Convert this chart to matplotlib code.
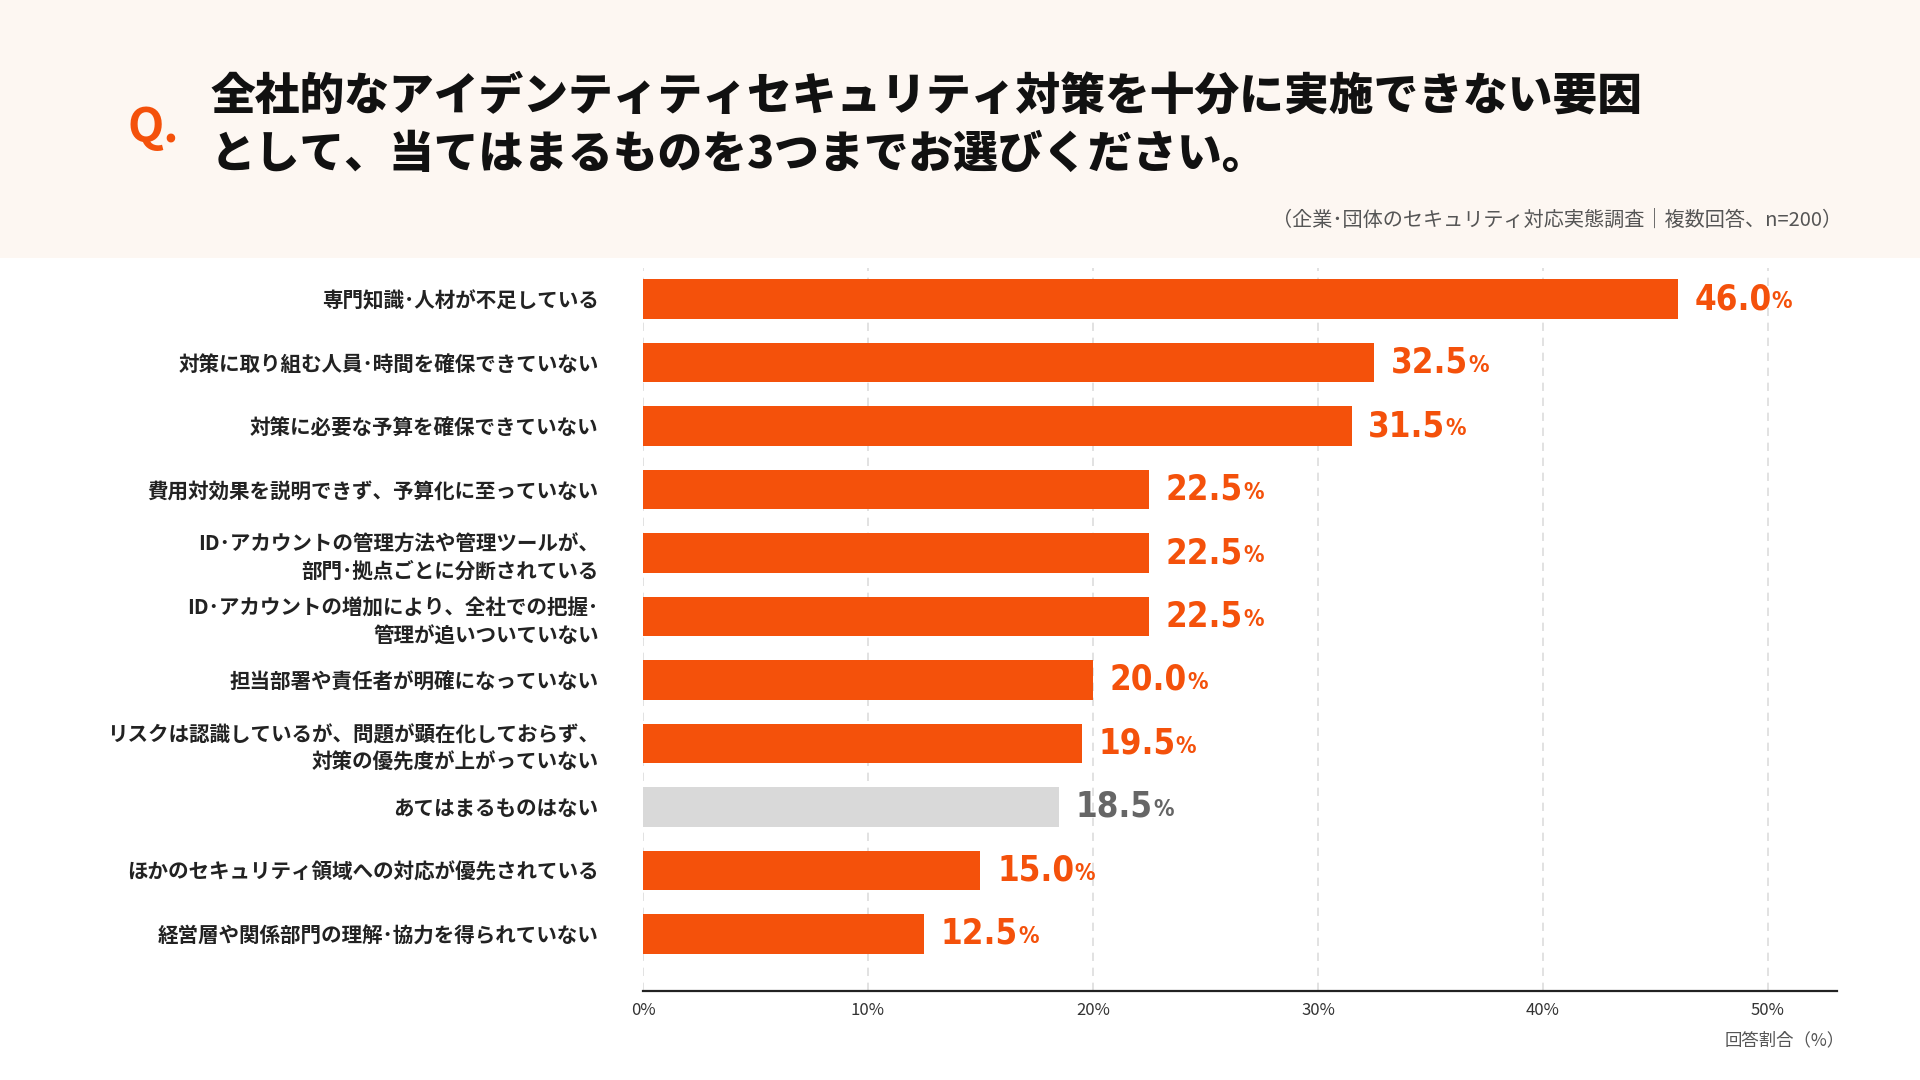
import matplotlib.pyplot as plt
from matplotlib.patches import Rectangle
from matplotlib import font_manager
import numpy as np

plt.rcParams['font.family'] = ['Noto Sans CJK JP', 'DejaVu Sans']

# データ
categories = [
    '専門知識･人材が不足している',
    '対策に取り組む人員･時間を確保できていない',
    '対策に必要な予算を確保できていない',
    '費用対効果を説明できず、予算化に至っていない',
    'ID･アカウントの管理方法や管理ツールが、\n部門･拠点ごとに分断されている',
    'ID･アカウントの増加により、全社での把握･\n管理が追いついていない',
    '担当部署や責任者が明確になっていない',
    'リスクは認識しているが、問題が顕在化しておらず、\n対策の優先度が上がっていない',
    'あてはまるものはない',
    'ほかのセキュリティ領域への対応が優先されている',
    '経営層や関係部門の理解･協力を得られていない',
]
values = [46.0, 32.5, 31.5, 22.5, 22.5, 22.5, 20.0, 19.5, 18.5, 15.0, 12.5]
is_none = [False, False, False, False, False, False, False, False, True, False, False]
xticks = [0, 10, 20, 30, 40, 50]

orange = '#F4510B'
gray_bar = '#D9D9D9'
gray_txt = '#666666'

# 数値ラベル用の細いフォント
names = {f.name for f in font_manager.fontManager.ttflist}
num_family = 'Liberation Sans Narrow' if 'Liberation Sans Narrow' in names else 'DejaVu Sans'
cond_fonts = [f for f in font_manager.fontManager.ttflist
              if 'Condensed' in f.fname and 'Bold' in f.fname and 'DejaVuSans' in f.fname]
num_prop = dict(family=num_family, fontweight='bold')
if num_family == 'DejaVu Sans' and cond_fonts:
    num_prop = dict(fontproperties=font_manager.FontProperties(fname=cond_fonts[0].fname))

fig = plt.figure(figsize=(19.2, 10.8), dpi=100)
fig.patch.set_facecolor('white')

# ヘッダー背景
fig.add_artist(Rectangle((0, 1 - 258 / 1080), 1, 258 / 1080, transform=fig.transFigure,
                         facecolor='#FDF7F2', edgecolor='none', zorder=0))

fig.text(127 / 1920, 1 - 128 / 1080, 'Q.', color=orange, fontsize=34, fontweight='bold',
         va='center', ha='left')
fig.text(211 / 1920, 1 - 96 / 1080, '全社的なアイデンティティセキュリティ対策を十分に実施できない要因',
         fontsize=32.2, fontweight='heavy', color='#111111', va='center', ha='left')
fig.text(211 / 1920, 1 - 154 / 1080, 'として、当てはまるものを3つまでお選びください。',
         fontsize=32.2, fontweight='heavy', color='#111111', va='center', ha='left')
fig.text(1842 / 1920, 1 - 220 / 1080, '（企業･団体のセキュリティ対応実態調査｜複数回答、n=200）',
         fontsize=14.5, color='#555555', va='center', ha='right')

ax = fig.add_axes([643 / 1920, 89 / 1080, (1837 - 643) / 1920, (1080 - 89 - 268) / 1080])

y = np.arange(len(categories))
colors = [gray_bar if n else orange for n in is_none]
ax.barh(y, values, height=0.62, color=colors, zorder=3)

ax.set_xlim(0, 53.07)
ax.set_ylim(len(categories) - 0.1, -0.49)
ax.set_yticks(y)
ax.set_yticklabels(categories, fontsize=14.8, fontweight='bold', color='#222222',
                   linespacing=1.35)
ax.tick_params(axis='y', length=0, pad=32)
ax.set_xticks(xticks)
ax.set_xticklabels([f'{t}%' for t in xticks], fontsize=12, color='#333333')
ax.tick_params(axis='x', length=0, pad=8)

ax.grid(axis='x', color='#DDDDDD', linestyle=(0, (5, 4)), linewidth=1.2, zorder=0)
for s in ['top', 'right', 'left']:
    ax.spines[s].set_visible(False)
ax.spines['bottom'].set_color('#222222')
ax.spines['bottom'].set_linewidth(1.6)

# 数値ラベル
fig.canvas.draw()
renderer = fig.canvas.get_renderer()
for yi, v, n in zip(y, values, is_none):
    c = gray_txt if n else orange
    t = ax.annotate(f'{v:.1f}', (v, yi), xytext=(12, 0), textcoords='offset points',
                    fontsize=25, color=c, va='center', ha='left', zorder=4, **num_prop)
    if 'fontproperties' in num_prop:
        t.set_fontsize(25)
    bb = t.get_window_extent(renderer)
    x_end = ax.transData.inverted().transform((bb.x1, bb.y0))[0]
    p = ax.annotate('%', (x_end, yi), xytext=(0, -2), textcoords='offset points',
                    fontsize=16.5, color=c, va='center', ha='left', zorder=4, **num_prop)
    if 'fontproperties' in num_prop:
        p.set_fontsize(16.5)

fig.text(1845 / 1920, 1 - 1040 / 1080, '回答割合（%）', fontsize=12.5, color='#555555',
         va='center', ha='right')

fig.savefig('out.png', dpi=100, facecolor=fig.get_facecolor())
